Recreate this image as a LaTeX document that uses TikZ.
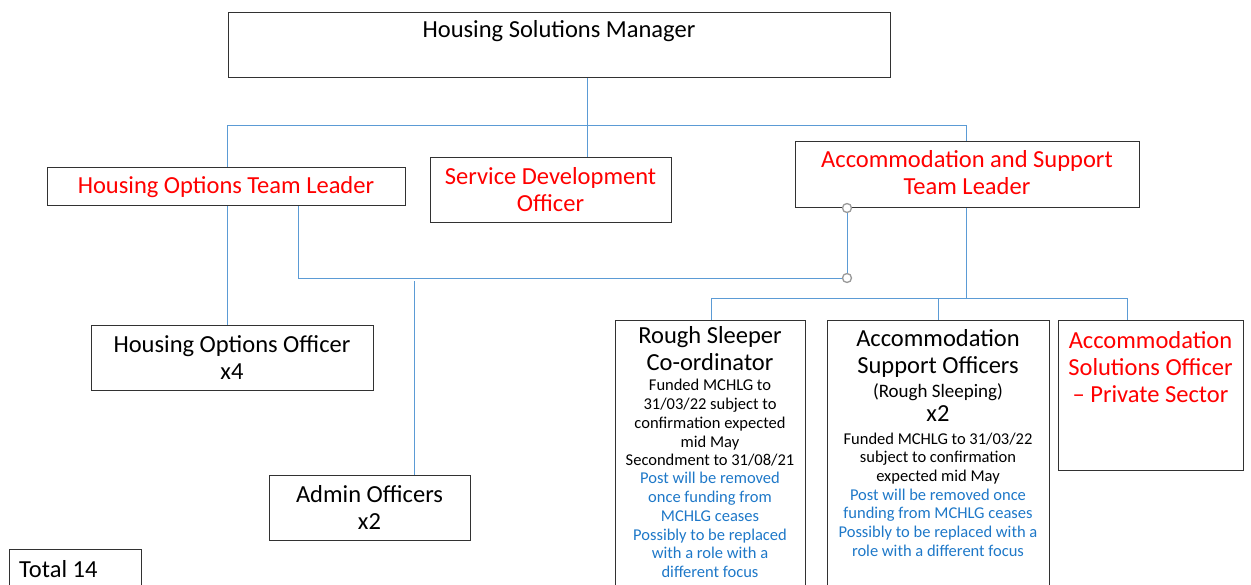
\documentclass[tikz,border=0pt]{standalone}
\usepackage{fontspec}
\setmainfont{Carlito}
\definecolor{conn}{RGB}{91,155,213}
\definecolor{bluetxt}{RGB}{30,120,200}
\definecolor{redtxt}{RGB}{255,0,0}
\definecolor{boxline}{RGB}{50,50,50}
\tikzset{
  box/.style={draw=boxline, line width=1pt, anchor=north west, inner sep=0pt},
  cline/.style={draw=conn, line width=0.9pt},
  txt/.style={align=center, inner sep=0pt, anchor=center},
  big/.style={font=\fontsize{24.5}{27}\selectfont},
  mid/.style={font=\fontsize{19}{20}\selectfont},
  small/.style={font=\fontsize{16.5}{18.7}\selectfont},
  circ/.style={circle, draw=black!40, fill=white, line width=1.3pt, minimum size=9pt, inner sep=0pt},
}
\begin{document}
\begin{tikzpicture}[x=1pt,y=-1pt]
\useasboundingbox (0,0) rectangle (1251,584);
\clip (0,0) rectangle (1251,584);
% boxes
\node[box, minimum width=662pt, minimum height=65pt] (mgr) at (228,12) {};
\node[box, minimum width=358pt, minimum height=38pt] (hotl) at (47,167) {};
\node[box, minimum width=241pt, minimum height=65pt] (sdo) at (430,157) {};
\node[box, minimum width=344pt, minimum height=66pt] (astl) at (795,141) {};
\node[box, minimum width=282pt, minimum height=65pt] (hoo) at (91,325) {};
\node[box, minimum width=201pt, minimum height=65pt] (admin) at (269,475) {};
\node[box, minimum width=190pt, minimum height=280pt] (rsc) at (615,320) {};
\node[box, minimum width=222pt, minimum height=280pt] (aso) at (827,320) {};
\node[box, minimum width=185pt, minimum height=150pt] (asol) at (1058,320) {};
\node[box, minimum width=132pt, minimum height=50pt] (tot) at (9,549) {};
% texts
\node[txt, big] (mgrT) at (559,31) {Housing Solutions Manager};
\node[txt, big, text=redtxt] (hotlT) at (226,187) {Housing Options Team Leader};
\node[txt, big, text=redtxt] (sdoT) at (550.5,190) {Service Development\\Officer};
\node[txt, big, text=redtxt] (astlT) at (967,173) {Accommodation and Support\\Team Leader};
\node[txt, big] (hooT) at (232,358) {Housing Options Officer\\x4};
\node[txt, big] (adminT) at (369.5,507) {Admin Officers\\x2};
\node[txt, big] (rscT) at (710,349) {Rough Sleeper\\Co-ordinator};
\node[txt, small] (rscB) at (710,423) {Funded MCHLG to\\31/03/22 subject to\\confirmation expected\\mid May\\Secondment to 31/08/21};
\node[txt, small, text=bluetxt] (rscC) at (710,525) {Post will be removed\\once funding from\\MCHLG ceases\\Possibly to be replaced\\with a role with a\\different focus};
\node[txt, big] (asoT) at (938,353) {Accommodation\\Support Officers};
\node[txt, mid] (asoR) at (938,392) {(Rough Sleeping)};
\node[txt, big] (asoX) at (938,414) {x2};
\node[txt, small] (asoB) at (938,458.5) {Funded MCHLG to 31/03/22\\subject to confirmation\\expected mid May};
\node[txt, small, text=bluetxt] (asoC) at (938,522.5) {Post will be removed once\\funding from MCHLG ceases\\Possibly to be replaced with a\\role with a different focus};
\node[txt, big, text=redtxt] (asolT) at (1150.5,367) {Accommodation\\Solutions Officer\\– Private Sector};
\node[txt, big, anchor=west] (totT) at (19,569) {Total 14};
% junctions
\coordinate (jm) at (587,125);
\coordinate (jl) at (227,125);
\coordinate (jr) at (966,125);
\coordinate (jh) at (298,278);
\coordinate (ja) at (414,278);
\coordinate (jb) at (966,298);
\coordinate (jb1) at (711,298);
\coordinate (jb2) at (938,298);
\coordinate (jb3) at (1127,298);
% connectors
\draw[cline] (mgr.south -| jm) -- (sdo.north -| jm);
\draw[cline] (jl) -- (jr);
\draw[cline] (jl) -- (hotl.north -| jl);
\draw[cline] (jr) -- (astl.north -| jr);
\draw[cline] (hotl.south -| jl) -- (hoo.north -| jl);
\draw[cline] (hotl.south -| jh) -- (jh) -- (847,278) coordinate (jc);
\node[circ] (c2) at (jc) {};
\draw[cline] (c2) -- (astl.south -| jc);
\node[circ] (c1) at (astl.south -| jc) {};
\draw[cline] ([yshift=-3pt]ja) -- (admin.north -| ja);
\draw[cline] (astl.south -| jb) -- (jb);
\draw[cline] (jb1) -- (jb3);
\draw[cline] (jb1) -- (rsc.north -| jb1);
\draw[cline] (jb2) -- (aso.north -| jb2);
\draw[cline] (jb3) -- (asol.north -| jb3);
\end{tikzpicture}
\end{document}
